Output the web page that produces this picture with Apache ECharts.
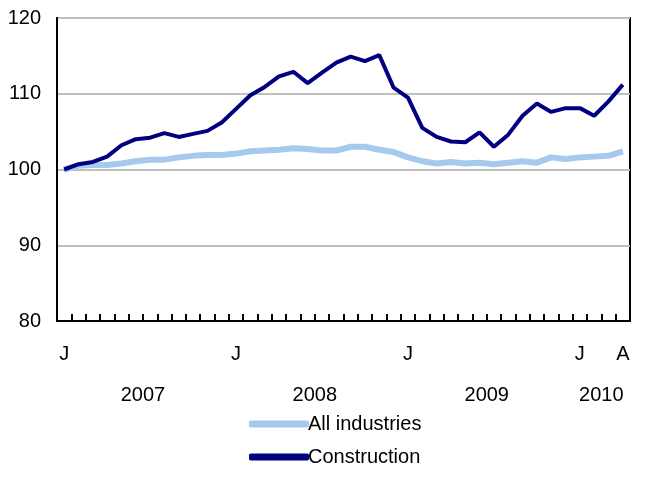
<!DOCTYPE html>
<html>
<head>
<meta charset="utf-8">
<script src="https://cdn.jsdelivr.net/npm/echarts@6/dist/echarts.min.js"></script>
<style>
  html, body { margin: 0; padding: 0; background: #fff; }
  #main { width: 646px; height: 487px; }
</style>
</head>
<body>
<div id="main"></div>
<script>
// monthly index, Jan 2007 = 100, Jan 2007 .. Apr 2010
const years = [2007, 2008, 2009, 2010];
const monthLetters = ["J", "F", "M", "A", "M", "J", "J", "A", "S", "O", "N", "D"];
const months = [];
years.forEach(function (y) {
  monthLetters.forEach(function (m, i) {
    if (y < 2010 || i < 4) months.push(m + " " + y);
  });
});

const allIndustries = [
  100.0, 100.5, 100.6, 100.6, 100.8, 101.1, 101.3, 101.3, 101.6, 101.8, 101.9, 101.9,
  102.1, 102.4, 102.5, 102.6, 102.8, 102.7, 102.5, 102.5, 103.0, 103.0, 102.6, 102.3,
  101.6, 101.1, 100.8, 101.0, 100.8, 100.9, 100.7, 100.9, 101.1, 100.9, 101.6, 101.4,
  101.6, 101.7, 101.8, 102.4
];
const construction = [
  100.0, 100.7, 101.0, 101.7, 103.2, 104.0, 104.2, 104.8, 104.3, 104.7, 105.1, 106.2,
  108.0, 109.8, 110.9, 112.3, 112.9, 111.4, 112.8, 114.1, 114.9, 114.3, 115.1, 110.8,
  109.5, 105.5, 104.3, 103.7, 103.6, 104.9, 103.0, 104.6, 107.1, 108.7, 107.6, 108.1,
  108.1, 107.1, 109.0, 111.2
];

// labelled months (index into months) and year label positions (in month units)
const monthLabelIdx = [0, 12, 24, 36, 39];
const yearLabelPos = [6, 18, 30, 38];
const yearLabels = ["2007", "2008", "2009", "2010"];

const chart = echarts.init(document.getElementById("main"));
const font = "Liberation Sans, Arial, Helvetica, sans-serif";

chart.setOption({
  animation: false,
  textStyle: { fontFamily: font },
  grid: {
    left: 57, right: 16, top: 18, bottom: 166,
    show: true, borderColor: "#000", borderWidth: 2
  },
  legend: {
    orient: "vertical",
    left: 244, top: 409,
    itemWidth: 60, itemHeight: 7, itemGap: 13,
    icon: "roundRect",
    textStyle: { fontSize: 20, color: "#000", fontFamily: font, padding: [0, 0, 0, -6] },
    data: ["All industries", "Construction"]
  },
  xAxis: [
    {
      type: "category",
      data: months,
      boundaryGap: true,
      axisLine: { show: true, lineStyle: { color: "#000", width: 2 } },
      axisTick: { show: true, interval: 0, inside: true, length: 7, lineStyle: { color: "#000", width: 2 } },
      axisLabel: {
        interval: 0,
        formatter: function (v, i) { return monthLabelIdx.indexOf(i) >= 0 ? v.charAt(0) : ""; },
        margin: 23, fontSize: 20, color: "#000", fontFamily: font
      },
      splitLine: { show: false }
    },
    {
      type: "value",
      position: "bottom",
      min: 0, max: months.length,
      axisLine: { show: false },
      axisTick: { show: false },
      splitLine: { show: false },
      axisLabel: {
        customValues: yearLabelPos,
        formatter: function (v) { return yearLabels[yearLabelPos.indexOf(v)] || ""; },
        margin: 64, fontSize: 20, color: "#000", fontFamily: font
      }
    }
  ],
  yAxis: {
    type: "value",
    min: 80, max: 120, interval: 10,
    axisLine: { show: true, lineStyle: { color: "#000", width: 2 } },
    axisTick: { show: false },
    axisLabel: { margin: 16, fontSize: 20, color: "#000", fontFamily: font },
    splitLine: { lineStyle: { color: "#c0c0c0", width: 2 } }
  },
  series: [
    {
      name: "All industries",
      type: "line",
      data: allIndustries,
      symbol: "none",
      color: "#a6c9ee",
      lineStyle: { width: 6, color: "#a6c9ee" },
      z: 2
    },
    {
      name: "Construction",
      type: "line",
      data: construction,
      symbol: "none",
      color: "#000080",
      lineStyle: { width: 4, color: "#000080" },
      z: 3
    }
  ]
});
</script>
</body>
</html>
